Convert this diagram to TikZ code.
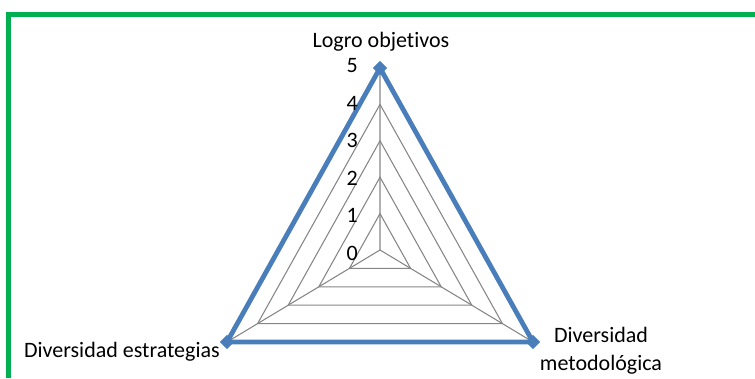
\documentclass[tikz,border=0pt]{standalone}
\usepackage{fontspec}
\setmainfont{Carlito}[Ligatures={TeX,NoCommon}]
\usetikzlibrary{positioning,shapes.geometric}
\definecolor{framegreen}{RGB}{0,176,80}
\definecolor{gridgray}{RGB}{134,134,134}
\definecolor{serieblue}{RGB}{74,126,187}

\begin{document}
\begin{tikzpicture}[x=0.75pt,y=-0.75pt,
	gridline/.style={draw=gridgray, line width=0.8pt},
	serie/.style={draw=serieblue, line width=3.6pt, line join=miter},
	marker/.style={diamond, fill=serieblue, inner sep=0pt, minimum size=11pt},
	lbl/.style={inner sep=0pt, font=\fontsize{16.5}{21}\selectfont}]
	\useasboundingbox (0,0) rectangle (755,378);
	\draw[framegreen, line width=3.75pt] (8,378) -- (8,14.5) -- (760,14.5);
	\foreach \k in {0,...,5} {
		\coordinate (t\k) at (380,{250-36.4*\k});
		\coordinate (l\k) at ({380-30.6*\k},{250+18.4*\k});
		\coordinate (r\k) at ({380+30.6*\k},{250+18.4*\k});
	}
	\foreach \k in {1,...,5}
		\draw[gridline] (t\k) -- (r\k) -- (l\k) -- cycle;
	\draw[gridline] (t0) -- (t5) (t0) -- (l5) (t0) -- (r5);
	\draw[serie] (t5) -- (r5) -- (l5) -- cycle;
	\foreach \v in {t5,r5,l5}
		\node[marker] (m\v) at (\v) {};
	\foreach \k in {0,...,5}
		\node[lbl, anchor=base east] (n\k) at (358,{260-37.4*\k}) {\k};
	\node[lbl, anchor=base] (logro) at (381,48) {Logro objetivos};
	\node[lbl, anchor=base east] (estrategias) at (220,357) {Diversidad estrategias};
	\node[lbl, anchor=base, align=center] (metodo) at (601,370) {Diversidad\\metodológica};
\end{tikzpicture}
\end{document}
